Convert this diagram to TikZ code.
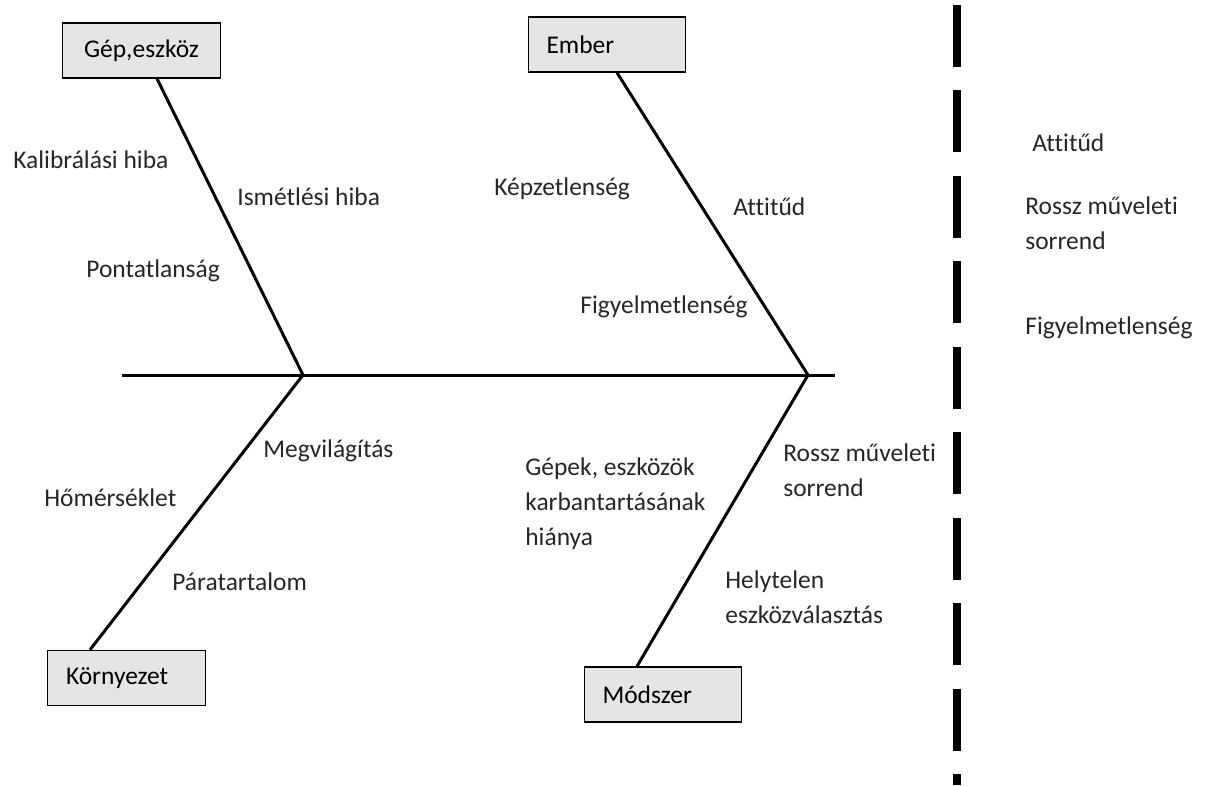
\documentclass[tikz,border=0pt]{standalone}
\usepackage{fontspec}
\setmainfont{Carlito}[Ligatures=NoCommon]
\usetikzlibrary{positioning}

\tikzset{
  cat/.style={shape=rectangle,draw=black,fill=gray!20,line width=0.8pt,minimum width=3.15cm,minimum height=1.1cm,inner xsep=0.36cm,text width=2.42cm,align=left},
  cause/.style={anchor=west,align=left,inner sep=0pt,text=black!85},
  bone/.style={draw=black,line width=1.7pt},
  sep/.style={draw=black,line width=4.5pt,dash pattern=on 1.24cm off 0.47cm}
}

\begin{document}
\begin{tikzpicture}[x=0.02cm,y=-0.02cm,font=\fontsize{14.5}{20}\selectfont]
\useasboundingbox (0,0) rectangle (1207,785);

\node[cat,inner xsep=0.1cm,text width=2.9cm,align=center] (gep) at (141.5,50.5) {G\'ep,eszk\"oz};
\node[cat] (ember) at (607,44.5) {Ember};
\node[cat] (korny) at (126.5,678) {K\"ornyezet};
\node[cat] (modszer) at (663,694.5) {M\'odszer};

\coordinate (s0) at (122,375);
\coordinate (s1) at (835,375);
\coordinate (j1) at (303,375);
\coordinate (j2) at (808,375);

\path [bone] (s0) -- (s1);
\path [bone] (gep.south -| 157,0) -- (j1);
\path [bone] (j1) -- (korny.north -| 90,0);
\path [bone] (ember.south -| 617,0) -- (j2);
\path [bone] (j2) -- (modszer.north -| 637,0);

\coordinate (d0) at (957,5);
\coordinate (d1) at (957,785);
\path [sep] (d0) -- (d1);

\node[cause] (kal) at (13,160) {Kalibr\'al\'asi hiba};
\node[cause] (ism) at (237,197) {Ism\'etl\'esi hiba};
\node[cause] (pon) at (86,271) {Pontatlans\'ag};
\node[cause] (kep) at (494,189) {K\'epzetlens\'eg};
\node[cause] (att) at (733,207) {Attit\H{u}d};
\node[cause] (fig) at (580,307) {Figyelmetlens\'eg};
\node[cause] (meg) at (263,451) {Megvil\'ag\'it\'as};
\node[cause] (hom) at (44,498) {H\H{o}m\'ers\'eklet};
\node[cause] (par) at (172,582) {P\'aratartalom};
\node[cause] (kar) at (525,504) {G\'epek, eszk\"oz\"ok\\karbantart\'as\'anak\\hi\'anya};
\node[cause] (ros) at (783,470) {Rossz m\H{u}veleti\\sorrend};
\node[cause] (hel) at (725,597) {Helytelen\\eszk\"ozv\'alaszt\'as};

\node[cause] (att2) at (1032,143) {Attit\H{u}d};
\node[cause] (ros2) at (1025,223) {Rossz m\H{u}veleti\\sorrend};
\node[cause] (fig2) at (1025,328) {Figyelmetlens\'eg};
\end{tikzpicture}
\end{document}
